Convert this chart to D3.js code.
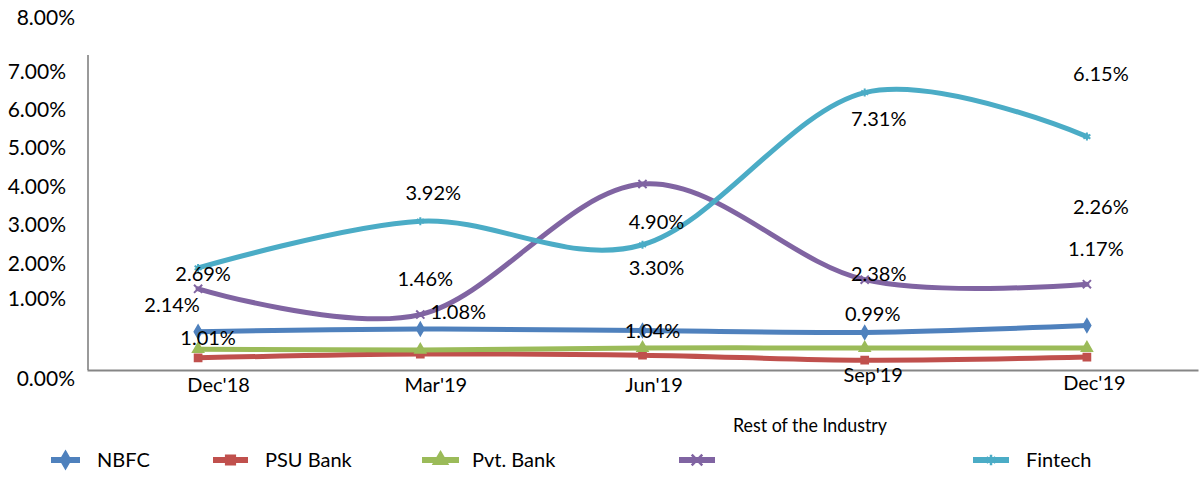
<!DOCTYPE html>
<html>
<head>
<meta charset="utf-8">
<script src="https://cdn.jsdelivr.net/npm/d3@7"></script>
<style>
  body { margin: 0; background: #fff; }
  text { font-family: Lato, "Liberation Sans", sans-serif; fill: #000; }
</style>
</head>
<body>
<div class="chart"></div>
<script>

// ---- data (percent) ----
var quarters = ["Dec'18", "Mar'19", "Jun'19", "Sep'19", "Dec'19"];
var nbfc = [1.01, 1.08, 1.04, 0.99, 1.17];
var psuBank = [0.32, 0.42, 0.39, 0.26, 0.34];
var pvtBank = [0.55, 0.53, 0.58, 0.58, 0.58];
var restOfIndustry = [2.14, 1.46, 4.90, 2.38, 2.26];
var fintech = [2.69, 3.92, 3.30, 7.31, 6.15];

var tickValues = [0, 1, 2, 3, 4, 5, 6, 7, 8];
// the tick labels sit off their gridlines in the original export, these are the levels they landed on
var tickLabelLevels = [-0.21, 1.89, 2.82, 3.84, 4.84, 5.87, 6.87, 7.87, 9.29];

var svgWidth = 1204, svgHeight = 480;

var svg = d3.select(".chart")
	.append("svg")
	.attr("width", svgWidth)
	.attr("height", svgHeight);

var x = d3.scalePoint()
	.domain(quarters)
	.range([87, 1198])
	.padding(0.5);

var y = d3.scaleLinear()
	.domain([0, 8.3])
	.range([370, 55]);

// label offsets in px, relative to each point
var series = [
	{ name: "NBFC", values: nbfc, color: "#4F81BD", marker: d3.symbolDiamond, fill: true,
	  labels: [[10, 6], [38, -17], [10, 0], [8, -18], [9, -77]] },
	{ name: "PSU Bank", values: psuBank, color: "#C0504D", marker: d3.symbolSquare, fill: true },
	{ name: "Pvt. Bank", values: pvtBank, color: "#9BBB59", marker: d3.symbolTriangle, fill: true },
	{ name: "", values: restOfIndustry, color: "#8064A2", marker: d3.symbolTimes, fill: false,
	  labels: [[-26, 16], [5, -36], [14, 38], [14, -6], [14, -77]] },
	{ name: "Fintech", values: fintech, color: "#4BACC6", marker: d3.symbolAsterisk, fill: false,
	  labels: [[5, 6], [13, -28], [14, 23], [14, 26], [14, -63]] }
];

// axes
var yTickScale = d3.scaleLinear()
	.domain(tickValues)
	.range(tickLabelLevels.map(function (v) { return y(v); }));

var yAxis = svg.append("g")
	.attr("transform", "translate(66,0)")
	.call(d3.axisLeft(yTickScale)
		.tickValues(tickValues)
		.tickSize(0)
		.tickPadding(0)
		.tickFormat(function (d) { return d3.format(".2f")(d) + "%"; }));
yAxis.select(".domain").remove();
yAxis.selectAll("text")
	.attr("font-size", 21)
	.attr("font-family", "Lato")
	.attr("dy", "0.35em")
	.attr("x", function (d) { return (d === 0 || d === 8) ? 9 : 0; });

svg.append("line")
	.attr("x1", 88).attr("x2", 88)
	.attr("y1", y(8.3)).attr("y2", y(0))
	.attr("stroke", "#9a9a9a")
	.attr("stroke-width", 2);

var xLabelShift = [20, 15, 11, 8, 7];
var xLabelLift = [0, 0, 0, -10, -2];

var xAxis = svg.append("g")
	.attr("transform", "translate(0," + y(0) + ")")
	.call(d3.axisBottom(x).tickSize(0).tickPadding(0));
xAxis.select(".domain")
	.attr("stroke", "#868686")
	.attr("stroke-width", 2);
xAxis.selectAll("text")
	.attr("font-size", 20)
	.attr("font-family", "Lato")
	.attr("dy", "0.35em")
	.attr("x", function (d, i) { return xLabelShift[i]; })
	.attr("y", function (d, i) { return 15 + xLabelLift[i]; });

// lines
var line = d3.line()
	.x(function (d, i) { return x(quarters[i]); })
	.y(function (d) { return y(d); })
	.curve(d3.curveCardinal.tension(0));

series.forEach(function (s) {
	var g = svg.append("g");
	g.append("path")
		.datum(s.values)
		.attr("d", line)
		.attr("fill", "none")
		.attr("stroke", s.color)
		.attr("stroke-width", 5)
		.attr("stroke-linecap", "round");

	g.selectAll(".marker")
		.data(s.values)
		.enter()
		.append("path")
		.attr("class", "marker")
		.attr("transform", function (d, i) {
			return "translate(" + x(quarters[i]) + "," + y(d) + ")";
		})
		.attr("d", d3.symbol().type(s.marker).size(45))
		.attr("fill", s.fill ? s.color : "none")
		.attr("stroke", s.color)
		.attr("stroke-width", 2);
});

// data labels
series.forEach(function (s) {
	if (!s.labels) return;
	svg.append("g")
		.selectAll("text")
		.data(s.values)
		.enter()
		.append("text")
		.attr("x", function (d, i) { return x(quarters[i]) + s.labels[i][0]; })
		.attr("y", function (d, i) { return y(d) + s.labels[i][1]; })
		.attr("dy", "0.35em")
		.attr("text-anchor", "middle")
		.attr("font-size", 20)
		.text(function (d) { return d.toFixed(2) + "%"; });
});

// legend
var legendX = [51, 213, 422, 679, 973];
var legendLen = [29, 35, 37, 36, 36];
var legendY = 460;
var legend = svg.append("g");

series.forEach(function (s, i) {
	var x0 = legendX[i], x1 = x0 + legendLen[i];
	legend.append("line")
		.attr("x1", x0).attr("x2", x1)
		.attr("y1", legendY).attr("y2", legendY)
		.attr("stroke", s.color)
		.attr("stroke-width", 6);
	legend.append("path")
		.attr("transform", "translate(" + (x0 + x1) / 2 + "," + legendY + ")")
		.attr("d", d3.symbol().type(s.marker).size(75))
		.attr("fill", s.fill ? s.color : "none")
		.attr("stroke", s.color)
		.attr("stroke-width", 2.5);
	if (s.name) {
		legend.append("text")
			.attr("x", x1 + (i === 2 ? 13 : 17))
			.attr("y", legendY)
			.attr("dy", "0.35em")
			.attr("font-size", 20)
			.text(s.name);
	}
});

legend.append("text")
	.attr("x", 733)
	.attr("y", 425)
	.attr("dy", "0.35em")
	.attr("font-size", 20)
	.attr("textLength", 154)
	.attr("lengthAdjust", "spacingAndGlyphs")
	.text("Rest of the Industry");

</script>
</body>
</html>
